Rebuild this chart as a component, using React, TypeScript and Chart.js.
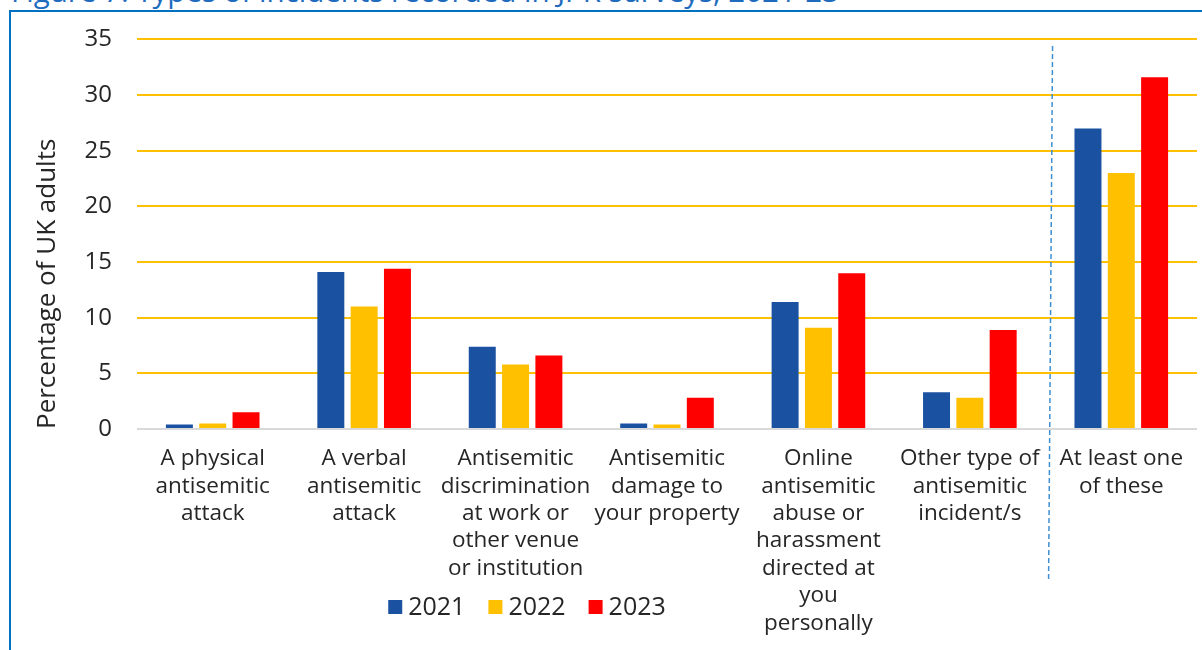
import React, { useEffect, useRef } from 'react';
import { Chart, registerables } from 'chart.js';

Chart.register(...registerables);

const titleText = 'Figure 7: Types of incidents recorded in JPR surveys, 2021-23';
const yAxisTitle = 'Percentage of UK adults';

const categories: string[][] = [
  ['A physical', 'antisemitic', 'attack'],
  ['A verbal', 'antisemitic', 'attack'],
  ['Antisemitic', 'discrimination', 'at work or', 'other venue', 'or institution'],
  ['Antisemitic', 'damage to', 'your property'],
  ['Online', 'antisemitic', 'abuse or', 'harassment', 'directed at', 'you', 'personally'],
  ['Other type of', 'antisemitic', 'incident/s'],
  ['At least one', 'of these'],
];

const seriesNames = ['2021', '2022', '2023'];
const values2021 = [0.4, 14.1, 7.4, 0.5, 11.4, 3.3, 27.0];
const values2022 = [0.5, 11.0, 5.8, 0.4, 9.1, 2.8, 23.0];
const values2023 = [1.5, 14.4, 6.6, 2.8, 14.0, 8.9, 31.6];
const seriesColors = ['#1b51a1', '#ffc000', '#ff0000'];

const yMin = 0;
const yMax = 35;
const yStep = 5;

const FONT = "'Open Sans', 'Noto Sans', sans-serif";
const TEXT = '#262626';

const customLegend = {
  id: 'customLegend',
  afterDraw(chart: any) {
    const ctx = chart.ctx;
    const centerX = 527;
    const centerY = 608;
    const box = 14;
    const gap = 6;
    const itemGap = 23;
    ctx.save();
    ctx.font = `25px ${FONT}`;
    ctx.textBaseline = 'middle';
    ctx.textAlign = 'left';
    const items = chart.data.datasets.map((d: any) => ({
      label: d.label,
      color: d.backgroundColor,
      w: ctx.measureText(d.label).width,
    }));
    const total = items.reduce((s: number, it: any) => s + box + gap + it.w, 0) + itemGap * (items.length - 1);
    let x = centerX - total / 2;
    for (const it of items) {
      ctx.fillStyle = it.color;
      ctx.fillRect(x, centerY - box / 2 - 1, box, box);
      x += box + gap;
      ctx.fillStyle = TEXT;
      ctx.fillText(it.label, x, centerY);
      x += it.w + itemGap;
    }
    ctx.restore();
  },
};

const separatorLine = {
  id: 'separatorLine',
  afterDraw(chart: any) {
    const xs = chart.scales.x;
    const mid = (xs.getPixelForValue(5) + xs.getPixelForValue(6)) / 2;
    const ctx = chart.ctx;
    ctx.save();
    ctx.strokeStyle = '#3f8fd2';
    ctx.lineWidth = 1.5;
    ctx.setLineDash([5, 3]);
    ctx.beginPath();
    ctx.moveTo(mid + 7, 46);
    ctx.lineTo(mid + 3, 582);
    ctx.stroke();
    ctx.restore();
  },
};

export default function App() {
  const canvasRef = useRef<HTMLCanvasElement | null>(null);

  useEffect(() => {
    if (!canvasRef.current) return;
    const chart = new Chart(canvasRef.current, {
      type: 'bar',
      data: {
        labels: categories,
        datasets: [
          { label: seriesNames[0], data: values2021, backgroundColor: seriesColors[0] },
          { label: seriesNames[1], data: values2022, backgroundColor: seriesColors[1] },
          { label: seriesNames[2], data: values2023, backgroundColor: seriesColors[2] },
        ],
      },
      options: {
        animation: false,
        responsive: false,
        maintainAspectRatio: false,
        events: [],
        datasets: {
          bar: { categoryPercentage: 0.66, barPercentage: 0.81 },
        },
        layout: { padding: { left: 20, right: 5, top: 35, bottom: 0 } },
        plugins: {
          legend: { display: false },
          tooltip: { enabled: false },
          title: { display: false },
        },
        scales: {
          x: {
            grid: { display: false, drawTicks: false },
            border: { display: false },
            ticks: {
              autoSkip: false,
              maxRotation: 0,
              minRotation: 0,
              padding: 16,
              color: TEXT,
              font: { family: FONT, size: 22.5, lineHeight: 1.22 },
            },
            afterFit: (s: any) => {
              s.height = 221;
            },
          },
          y: {
            min: yMin,
            max: yMax,
            ticks: {
              stepSize: yStep,
              padding: 25,
              color: TEXT,
              font: { family: FONT, size: 24 },
            },
            grid: {
              drawTicks: false,
              lineWidth: 2,
              color: (c: any) => (c.tick && c.tick.value === 0 ? '#d9d9d9' : '#ffc000'),
            },
            border: { display: false },
            title: {
              display: true,
              text: yAxisTitle,
              align: 'start',
              color: TEXT,
              font: { family: FONT, size: 26, lineHeight: 1.2 },
              padding: { top: 12, bottom: 0 },
            },
            afterFit: (s: any) => {
              s.width = 117;
            },
          },
        },
      },
      plugins: [customLegend, separatorLine],
    });
    return () => chart.destroy();
  }, []);

  return (
    <div
      style={{
        position: 'absolute',
        left: 0,
        top: 0,
        width: 1202,
        height: 650,
        overflow: 'hidden',
        background: '#ffffff',
      }}
    >
      <div
        style={{
          position: 'absolute',
          left: 11,
          top: -26,
          fontFamily: FONT,
          fontSize: 29.5,
          lineHeight: '34px',
          color: '#1f6cbf',
          whiteSpace: 'nowrap',
        }}
      >
        {titleText}
      </div>
      <div
        style={{
          position: 'absolute',
          left: 9,
          top: 10,
          width: 1300,
          height: 700,
          borderLeft: '2px solid #0070c0',
          borderTop: '2px solid #0070c0',
          boxSizing: 'border-box',
        }}
      />
      <canvas
        ref={canvasRef}
        width={1202}
        height={650}
        style={{ position: 'absolute', left: 0, top: 0, width: 1202, height: 650 }}
      />
    </div>
  );
}
